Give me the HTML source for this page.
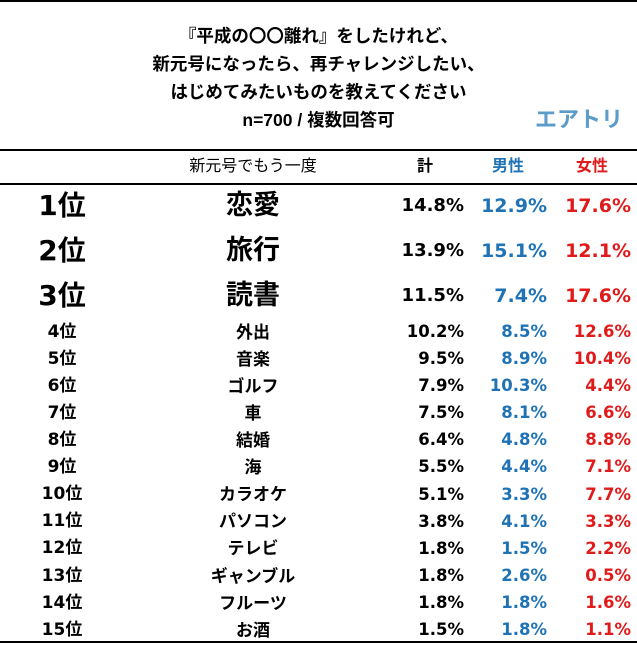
<!DOCTYPE html>
<html><head><meta charset="utf-8"><style>
body{margin:0;width:637px;height:645px;background:#fff;position:relative;overflow:hidden;font-family:"Liberation Sans","Noto Sans CJK JP",sans-serif;}
.a{position:absolute;white-space:nowrap;font-weight:bold;line-height:1;}
.n{font-family:"DejaVu Sans","Noto Sans CJK JP",sans-serif;}
.line{position:absolute;left:0;width:637px;height:2px;background:#000;}
</style></head><body>
<div class="line" style="top:0"></div>
<div class="a" style="left:0;width:637px;top:22px;text-align:center;font-size:17.5px;line-height:28px;">『平成の〇〇離れ』をしたけれど、<br>新元号になったら、再チャレンジしたい、<br>はじめてみたいものを教えてください<br>n=700 / 複数回答可</div>
<div class="a" style="left:535px;top:109px;font-size:22px;color:#5b9cc9;letter-spacing:0px;">エアトリ</div>
<div class="line" style="top:149px"></div>
<div class="a" style="left:153px;width:200px;top:159px;text-align:center;font-size:16px;font-weight:normal;">新元号でもう一度</div>
<div class="a" style="left:417px;top:159px;font-size:16px;">計</div>
<div class="a" style="left:492px;top:159px;font-size:16px;color:#1f73b5;">男性</div>
<div class="a" style="left:576px;top:159px;font-size:16px;color:#e01b1b;">女性</div>
<div class="line" style="top:183px"></div>
<div class="line" style="top:641px"></div>
<script>
const items=["恋愛","旅行","読書","外出","音楽","ゴルフ","車","結婚","海","カラオケ","パソコン","テレビ","ギャンブル","フルーツ","お酒"];
const totals=[14.8,13.9,11.5,10.2,9.5,7.9,7.5,6.4,5.5,5.1,3.8,1.8,1.8,1.8,1.5];
const males=[12.9,15.1,7.4,8.5,8.9,10.3,8.1,4.8,4.4,3.3,4.1,1.5,2.6,1.8,1.8];
const females=[17.6,12.1,17.6,12.6,10.4,4.4,6.6,8.8,7.1,7.7,3.3,2.2,0.5,1.6,1.1];
function rowY(i){return i<3?207+i*45:333+(i-3)*27.1;}
function add(txt,name,x,y,size,align,color,w,num){
  const d=document.createElement('div');
  d.className=num?'a n':'a';
  
  
  d.textContent=txt;
  d.style.fontSize=size+'px';
  d.style.top=(y-size*0.55)+'px';
  d.style.width=w+'px';
  d.style.textAlign=align;
  d.style.left=(align==='right'?x-w:x-w/2)+'px';
  if(color)d.style.color=color;
  document.body.appendChild(d);
}
items.forEach((it,i)=>{
  const big=i<3,y=rowY(i);
  add((i+1)+'位','rank-label',62,y,big?28:17,'center',null,100,true);
  add(it,'item-label',253,y,big?27:17,'center',null,200,false);
  add(totals[i].toFixed(1)+'%','total-value',464,y,big?18:16.5,'right',null,90,true);
  add(males[i].toFixed(1)+'%','male-value',547,y,big?19:16.5,'right','#1f73b5',90,true);
  add(females[i].toFixed(1)+'%','female-value',631,y,big?19:16.5,'right','#e01b1b',90,true);
});
</script>
</body></html>
